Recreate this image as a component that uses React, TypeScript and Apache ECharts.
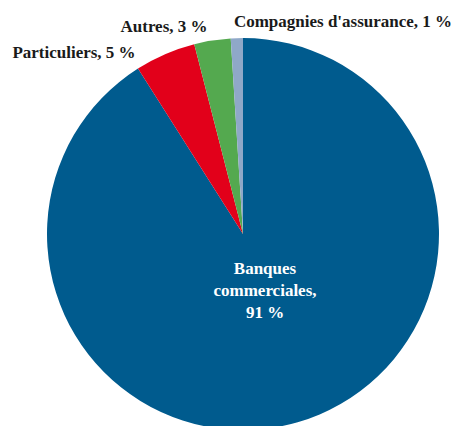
import React, { useEffect, useRef } from "react";
import * as echarts from "echarts";

const categories = ["Banques\ncommerciales", "Particuliers", "Autres", "Compagnies d'assurance"];
const values = [91, 5, 3, 1];
const colors = ["#005B8E", "#E2001A", "#54A94F", "#8FA8C8"];
// label anchor positions (centres) in pixels
const labelPos: [number, number][] = [
  [265, 290],
  [74, 52],
  [164, 26],
  [343, 21],
];

export default function App() {
  const ref = useRef<HTMLDivElement>(null);
  useEffect(() => {
    if (!ref.current) return;
    const chart = echarts.init(ref.current, undefined, { renderer: "svg" });
    chart.setOption({
      animation: false,
      backgroundColor: "#ffffff",
      series: [
        {
          type: "pie",
          center: [243, 234],
          radius: [0, 196],
          startAngle: 90,
          clockwise: true,
          silent: true,
          labelLine: { show: false },
          label: {
            show: true,
            overflow: "none",
            formatter: (p: any) => `${p.name}, ${p.value} %`,
            fontFamily: "Liberation Serif",
            fontWeight: "bold",
            fontSize: 17,
            color: "#1a1a1a",
          },
          labelLayout: (p: any) => ({
            x: labelPos[p.dataIndex][0],
            y: labelPos[p.dataIndex][1],
            align: "center",
            verticalAlign: "middle",
          }),
          itemStyle: { borderWidth: 0 },
          data: categories.map((c, i) => ({
            name: c,
            value: values[i],
            itemStyle: { color: colors[i] },
            label:
              i === 0
                ? {
                    color: "#ffffff",
                    lineHeight: 22,
                    formatter: "Banques\ncommerciales,\n{c} %",
                  }
                : undefined,
          })),
        },
      ],
    });
    return () => chart.dispose();
  }, []);
  return (
    <div
      ref={ref}
      style={{ position: "fixed", left: 0, top: 0, width: 459, height: 426 }}
    />
  );
}
